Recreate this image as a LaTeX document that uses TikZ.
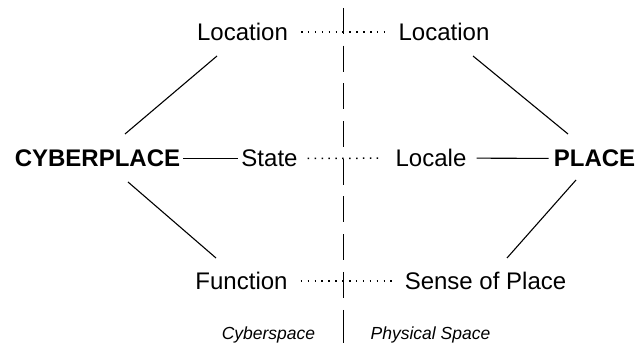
\documentclass[tikz,border=0pt]{standalone}
\usepackage{fontspec}
\setmainfont{Liberation Sans}
\usepackage{tikz}
\usetikzlibrary{positioning, calc}
\tikzset{
	term/.style    ={anchor=base, inner xsep=3pt, inner ysep=0pt, font=\fontsize{24}{28}\selectfont},
	hub/.style     ={term, font=\fontsize{24}{28}\selectfont\bfseries},
	realm/.style   ={anchor=base, inner sep=0pt, font=\fontsize{17.5}{21}\selectfont\itshape},
	link/.style    ={line width=1.1pt, black},
	dotlink/.style ={line width=1.5pt, dash pattern=on 1.5pt off 5.4pt, shorten <=10pt, shorten >=10pt},
	divider/.style ={line width=1.2pt, dash pattern=on 26pt off 11.7pt},
}

\begin{document}
\begin{tikzpicture}[x=1pt, y=1pt]
	\useasboundingbox (0,0) rectangle (639,347);
	% hubs
	\node[hub] (cyber) at (97.5,180.3) {CYBERPLACE};
	\node[hub] (place) at (594.5,180.3) {PLACE};
	% cyberspace side
	\node[term] (locL)  at (242.5,306.3) {Location};
	\node[term] (state) at (269.5,180.3) {State};
	\node[term] (func)  at (241.5,57.3)  {Function};
	% physical side
	\node[term] (locR)   at (444,306.3)   {Location};
	\node[term] (locale) at (431,180.3)   {Locale};
	\node[term] (sense)  at (485.5,57.3)  {Sense of Place};
	% realm captions
	\node[realm] (cspace) at (268.5,7.3) {Cyberspace};
	\node[realm] (pspace) at (430.5,7.3) {Physical Space};
	% divider
	\coordinate (divTop) at (343.5,339);
	\coordinate (divBot) at (343.5,49);
	\coordinate (barTop) at (343.5,37);
	\coordinate (barBot) at (343.5,4);
	\draw[divider] (divTop) -- (divBot);
	\draw[line width=1.2pt] (barTop) -- (barBot);
	% spokes
	\draw[link] ([shift={(-25.5,-15.3)}]locL.base) -- ([shift={(27.5,32.7)}]cyber.base);
	\draw[link] ([shift={(30.5,-15.3)}]cyber.base) -- ([shift={(-25.5,31.7)}]func.base);
	\draw[link] ([shift={(29,-15.3)}]locR.base) -- ([shift={(-26.5,32.7)}]place.base);
	\draw[link] ([shift={(-18.5,-13.3)}]place.base) -- ([shift={(21.5,31.7)}]sense.base);
	\draw[link] (cyber.east) -- (state.west);
	\draw[link, shorten <=7pt, shorten >=2pt] (locale.east) -- (place.west);
	% correspondences
	\draw[dotlink] (locL) -- (locR);
	\draw[dotlink, shorten <=7pt] (state) -- (locale);
	\draw[dotlink] (func) -- (sense);
\end{tikzpicture}
\end{document}
